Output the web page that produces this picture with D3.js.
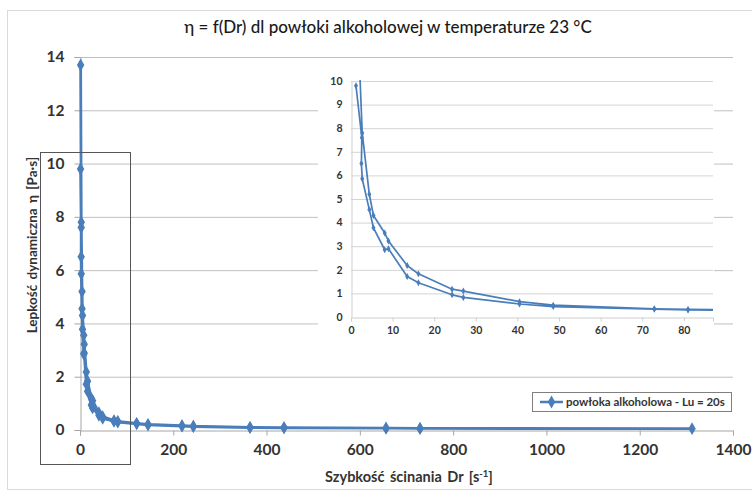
<!DOCTYPE html>
<html><head><meta charset="utf-8">
<script src="https://cdn.jsdelivr.net/npm/d3@7"></script>
<style>
body{margin:0;background:#fff;}
svg{display:block;font-family:Lato,"Open Sans",sans-serif;}
</style></head>
<body><svg id="c" width="752" height="497"></svg>
<script>
// ---- data ----
const titleText = "η = f(Dr) dl powłoki alkoholowej w temperaturze 23 °C";
const xLabel = "Szybkość ścinania Dr [s";
const yLabel = "Lepkość dynamiczna η [Pa·s]";
const seriesName = "powłoka alkoholowa - Lu = 20s";
// ramp up (increasing shear rate)
const shearUp = [1.35, 2.7, 4.4, 5.4, 8.1, 9.0, 13.5, 16.2, 24.3, 27, 40.5, 48.6, 72.9, 81, 121.5, 145.8, 218.7, 243, 364.5, 437.4, 656.1, 729, 1312.2];
const etaUp   = [13.7, 7.8, 5.2, 4.3, 3.56, 3.22, 2.18, 1.83, 1.18, 1.1, 0.65, 0.5, 0.35, 0.32, 0.25, 0.21, 0.16, 0.14, 0.1, 0.09, 0.07, 0.06, 0.05];
// ramp down (decreasing shear rate)
const shearDown = [729, 656.1, 437.4, 364.5, 243, 218.7, 145.8, 121.5, 81, 72.9, 48.6, 40.5, 27, 24.3, 16.2, 13.5, 9.0, 8.1, 5.4, 4.4, 2.7, 2.5, 2.6, 1.2];
const etaDown   = [0.06, 0.07, 0.08, 0.09, 0.13, 0.15, 0.19, 0.23, 0.3, 0.33, 0.44, 0.55, 0.83, 0.94, 1.45, 1.72, 2.89, 2.85, 3.78, 4.55, 5.86, 6.5, 7.6, 9.8];
const mainXTicks = [0, 200, 400, 600, 800, 1000, 1200, 1400];
const mainYTicks = [0, 2, 4, 6, 8, 10, 12, 14];
const insetXTicks = [0, 10, 20, 30, 40, 50, 60, 70, 80];
const insetYTicks = [0,1,2,3,4,5,6,7,8,9,10];

const points = shearUp.map((d,i)=>({x:d,y:etaUp[i]}))
  .concat(shearDown.map((d,i)=>({x:d,y:etaDown[i]})));

const blue = "#4a7ebb";
const svg = d3.select("#c");

// outer chart border
svg.append("rect").attr("x",7.5).attr("y",10.5).attr("width",800).attr("height",479)
  .attr("fill","#fff").attr("stroke","#d9d9d9");

// ---- main chart ----
const x = d3.scaleLinear().domain([0,1400]).range([80,733]);
const y = d3.scaleLinear().domain([0,14]).range([430,57]);

svg.append("g").selectAll("line").data(mainYTicks.filter(d=>d>0)).join("line")
  .attr("x1",x(0)).attr("x2",x(1400)).attr("y1",d=>y(d)+0.5).attr("y2",d=>y(d)+0.5)
  .attr("stroke","#c0c0c0").attr("stroke-width",1);

const gx = svg.append("g").attr("transform",`translate(0,${y(0)+0.5})`)
  .call(d3.axisBottom(x).tickValues(mainXTicks).tickSize(5).tickPadding(8).tickFormat(d3.format("d")));
const gy = svg.append("g").attr("transform",`translate(${x(0)+0.5},0)`)
  .call(d3.axisLeft(y).tickValues(mainYTicks).tickSize(6).tickPadding(10).tickFormat(d3.format("d")));
[gx,gy].forEach(g=>{
  g.select(".domain").attr("stroke","#a6a6a6");
  g.selectAll(".tick line").attr("stroke","#a6a6a6");
  g.selectAll("text").attr("font-size",15.5).attr("font-weight","bold").attr("fill","#333")
   .attr("font-family","Lato, sans-serif");
});

const line = d3.line().x(d=>x(d.x)).y(d=>y(d.y));
svg.append("path").datum(points).attr("d",line).attr("fill","none")
  .attr("stroke",blue).attr("stroke-width",2.8).attr("stroke-linejoin","round");
const diamond = d3.symbol().type(d3.symbolDiamond).size(48);
svg.append("g").selectAll("path").data(points).join("path")
  .attr("transform",d=>`translate(${x(d.x)},${y(d.y)})`).attr("d",diamond).attr("fill",blue);

// title
svg.append("text").attr("x",388).attr("y",33).attr("text-anchor","middle")
  .attr("font-size",17).attr("fill","#1a1a1a").attr("font-weight",500).text(titleText);
// axis titles
svg.append("text").attr("transform","translate(37,245) rotate(-90)").attr("text-anchor","middle")
  .attr("font-size",13.5).attr("font-weight","bold").attr("fill","#333").attr("word-spacing",2).text(yLabel);
const xt = svg.append("text").attr("x",409).attr("y",482).attr("text-anchor","middle")
  .attr("font-size",14.5).attr("font-weight","bold").attr("fill","#333").attr("word-spacing",2);
xt.append("tspan").text(xLabel);
xt.append("tspan").attr("font-size",9.5).attr("dy",-5).text("-1");
xt.append("tspan").attr("dy",5).text("]");

// ---- inset ----
const xi = d3.scaleLinear().domain([0,87]).range([351,713]);
const yi = d3.scaleLinear().domain([0,10]).range([317,81]);
svg.append("rect").attr("x",318).attr("y",64).attr("width",396).attr("height",282).attr("fill","#fff");
svg.append("g").selectAll("line").data(insetYTicks.filter(d=>d>0)).join("line")
  .attr("x1",xi(0)).attr("x2",xi(87)).attr("y1",d=>yi(d)+0.5).attr("y2",d=>yi(d)+0.5)
  .attr("stroke","#d4d4d4").attr("stroke-width",1);
const gxi = svg.append("g").attr("transform",`translate(0,${yi(0)+0.5})`)
  .call(d3.axisBottom(xi).tickValues(insetXTicks).tickSize(4).tickPadding(5).tickFormat(d3.format("d")));
const gyi = svg.append("g").attr("transform",`translate(${xi(0)+0.5},0)`)
  .call(d3.axisLeft(yi).tickValues(insetYTicks).tickSize(0).tickPadding(9).tickFormat(d3.format("d")));
[gxi,gyi].forEach(g=>{
  g.select(".domain").attr("stroke","#cfcfcf");
  g.selectAll(".tick line").attr("stroke","#cfcfcf");
  g.selectAll("text").attr("font-size",10.5).attr("font-weight","bold").attr("fill","#333")
   .attr("font-family","Lato, sans-serif");
});
svg.append("clipPath").attr("id","ic").append("rect")
  .attr("x",xi(0)).attr("y",yi(10)-1).attr("width",xi(87)-xi(0)).attr("height",yi(0)-yi(10)+2);
const li = d3.line().x(d=>xi(d.x)).y(d=>yi(d.y));
const ig = svg.append("g").attr("clip-path","url(#ic)");
ig.append("path").datum(points).attr("d",li).attr("fill","none")
  .attr("stroke",blue).attr("stroke-width",1.7).attr("stroke-linejoin","round");
ig.selectAll("path.m").data(points.filter(d=>d.x<=87)).join("path").attr("class","m")
  .attr("transform",d=>`translate(${xi(d.x)},${yi(d.y)})`)
  .attr("d",d3.symbol().type(d3.symbolDiamond).size(14)).attr("fill",blue);

// zoom rectangle
svg.append("rect").attr("x",40.5).attr("y",152.5).attr("width",90).attr("height",312)
  .attr("fill","none").attr("stroke","#555").attr("stroke-width",1);

// legend
const lg = svg.append("g");
lg.append("rect").attr("x",532.5).attr("y",392.5).attr("width",199).attr("height",19)
  .attr("fill","#fff").attr("stroke","#7f7f7f");
lg.append("line").attr("x1",540).attr("x2",563).attr("y1",402).attr("y2",402)
  .attr("stroke",blue).attr("stroke-width",2.5);
lg.append("path").attr("transform","translate(551.5,402)").attr("d",diamond).attr("fill",blue);
lg.append("text").attr("x",566).attr("y",406).attr("font-size",11.5).attr("font-weight","bold")
  .attr("fill","#333").text(seriesName);
</script></body></html>
